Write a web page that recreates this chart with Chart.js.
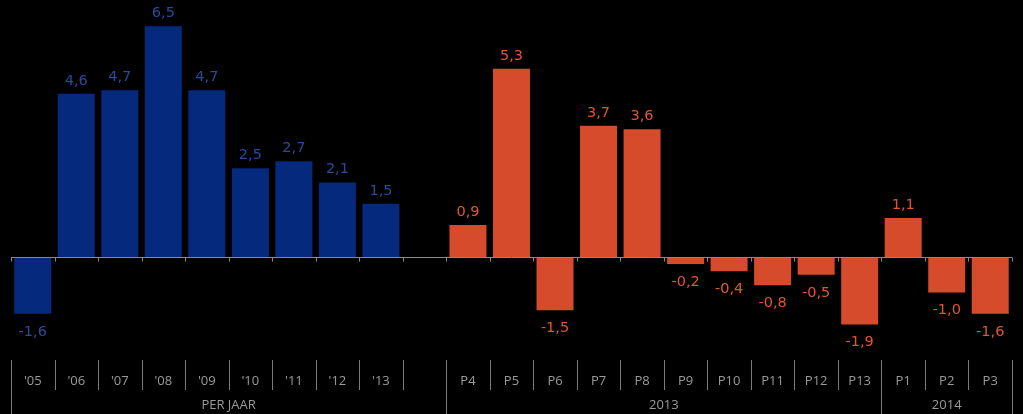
<!DOCTYPE html>
<html>
<head>
<meta charset="utf-8">
<script src="https://cdn.jsdelivr.net/npm/chart.js@4/dist/chart.umd.min.js"></script>
<style>
html,body{margin:0;padding:0;background:#000;}
canvas{display:block;}
</style>
</head>
<body>
<canvas id="c" width="1023" height="414"></canvas>
<script>
const categories = ["'05","'06","'07","'08","'09","'10","'11","'12","'13","","P4","P5","P6","P7","P8","P9","P10","P11","P12","P13","P1","P2","P3"];
const yearValues = [-1.6,4.6,4.7,6.5,4.7,2.5,2.7,2.1,1.5];
const periodValues2013 = [0.9,5.3,-1.5,3.7,3.6,-0.2,-0.4,-0.8,-0.5,-1.9];
const periodValues2014 = [1.1,-1.0,-1.6];
const groupLabels = ["PER JAAR","2013","2014"];
const groupSizes = [10,10,3];

const BLUE = '#04297d', BLUE_TXT = '#2b4a9c';
const ORANGE = '#d64b2b', ORANGE_TXT = '#e4542f';

const values = [...yearValues, null, ...periodValues2013, ...periodValues2014];
const isYear = values.map((v,i)=> i < yearValues.length);
const colors = isYear.map(y => y ? BLUE : ORANGE);

const overlay = {
  id:'overlay',
  afterDatasetsDraw(chart){
    const ctx = chart.ctx;
    const xs = chart.scales.x, ys = chart.scales.y;
    const n = categories.length;
    const step = xs.width / n;
    const y0 = Math.round(ys.getPixelForValue(0)) + 0.5;
    ctx.save();
    ctx.strokeStyle = '#8a8a8a';
    ctx.lineWidth = 1;
    ctx.beginPath();
    ctx.moveTo(xs.left, y0); ctx.lineTo(xs.right, y0);
    for (let i=0;i<=n;i++){
      const x = Math.round(xs.left + i*step) + 0.5;
      ctx.moveTo(x, y0); ctx.lineTo(x, y0+4);
    }
    ctx.stroke();
    const meta = chart.getDatasetMeta(0);
    ctx.font = '14.5px "DejaVu Sans"';
    ctx.textAlign = 'center';
    meta.data.forEach((bar,i)=>{
      const v = values[i];
      if (v === null || v === undefined) return;
      ctx.fillStyle = isYear[i] ? BLUE_TXT : ORANGE_TXT;
      const txt = v.toFixed(1).replace('.',',');
      if (v >= 0){
        ctx.textBaseline = 'alphabetic';
        ctx.fillText(txt, bar.x, bar.y - 9);
      } else {
        ctx.textBaseline = 'top';
        ctx.fillText(txt, bar.x, bar.y + 11);
      }
    });
    ctx.strokeStyle = '#7a7a7a';
    const groupBounds = [0];
    groupSizes.forEach(s => groupBounds.push(groupBounds[groupBounds.length-1]+s));
    ctx.beginPath();
    for (let i=0;i<=n;i++){
      const x = Math.round(xs.left + i*step) + 0.5;
      const long = groupBounds.includes(i);
      ctx.moveTo(x, 360); ctx.lineTo(x, long ? 414 : 390);
    }
    ctx.stroke();
    ctx.fillStyle = '#9a9a9a';
    ctx.font = '13px "Open Sans"';
    ctx.textBaseline = 'middle';
    groupLabels.forEach((g,k)=>{
      const cx = xs.left + (groupBounds[k]+groupBounds[k+1])/2*step;
      ctx.fillText(g, cx, 405);
    });
    ctx.restore();
  }
};

new Chart(document.getElementById('c'), {
  type:'bar',
  data:{
    labels: categories,
    datasets:[{
      data: values,
      backgroundColor: colors,
      borderWidth: 0,
      categoryPercentage: 1,
      barPercentage: 0.85
    }]
  },
  options:{
    responsive:false,
    devicePixelRatio:1,
    animation:false,
    layout:{padding:{left:11,right:11,top:0,bottom:0}},
    plugins:{legend:{display:false},tooltip:{enabled:false}},
    scales:{
      y:{display:false,min:-2.48,max:7.24},
      x:{
        offset:true,
        grid:{display:false,drawTicks:true,tickLength:28},
        border:{display:false},
        ticks:{color:'#9a9a9a',font:{family:'Open Sans',size:13},padding:0,maxRotation:0,autoSkip:false},
        afterFit(scale){ scale.height = 69; }
      }
    }
  },
  plugins:[overlay]
});
</script>
</body>
</html>
